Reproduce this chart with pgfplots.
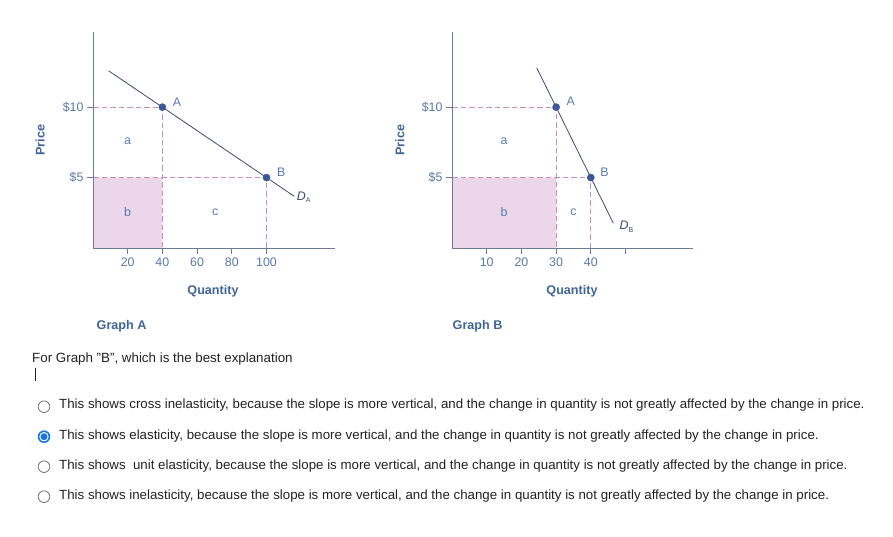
\documentclass[border=0pt]{standalone}
\usepackage{pgfplots}
\pgfplotsset{compat=1.18}
\usepackage{fontspec}
\setmainfont{Liberation Sans}
\definecolor{axiscol}{HTML}{6B7A99}
\definecolor{ticklab}{HTML}{5878A8}
\definecolor{labelcol}{HTML}{3F6598}
\definecolor{demandcol}{HTML}{3C4A6E}
\definecolor{pointcol}{HTML}{3B5998}
\definecolor{dashcol}{HTML}{C98BB5}
\definecolor{shade}{HTML}{EBD6EA}
\definecolor{lettercol}{HTML}{5A7AB0}
\definecolor{txt}{HTML}{222222}
\definecolor{radioblue}{HTML}{1A73E8}
\definecolor{radiogray}{HTML}{767676}
\pgfplotsset{
  econ/.style={
    scale only axis, height=215.5pt, ymin=0, ymax=15.3,
    axis lines=left, axis line style={-, draw=axiscol, line width=0.8pt},
    axis on top,
    ytick={5,10}, yticklabels={\$5,\$10},
    tick align=outside, major tick length=6pt,
    tick style={draw=axiscol, line width=0.8pt},
    /pgf/number format/assume math mode=true,
    ticklabel style={font=\fontsize{12.4}{14}\selectfont, text=ticklab},
    xlabel={Quantity}, ylabel={Price},
    label style={font=\fontsize{12.6}{14}\bfseries, text=labelcol},
    clip=false,
  },
  dl/.style={dashcol, dash pattern=on 5.5pt off 3pt, line width=0.8pt},
}
\begin{document}
\begin{tikzpicture}
\path[use as bounding box] (0pt,0pt) rectangle (893pt,537pt);
% Graph A
\begin{axis}[econ, at={(93pt,289pt)}, anchor=south west, width=242pt,
  xmin=0, xmax=139.5,
  xtick={20,40,60,80,100}, xticklabels={20,40,60,80,100},
  xlabel style={at={(axis description cs:0.496,-0.2)}, anchor=center},
  ylabel style={at={(axis description cs:-0.219,0.5)}, anchor=center},
]
\addplot[fill=shade, draw=none] coordinates {(0,5) (40,5)} \closedcycle;
\addplot[dl] coordinates {(0,10) (40,10) (40,0)};
\addplot[dl] coordinates {(0,5) (100,5) (100,0)};
\addplot[demandcol, line width=0.8pt] coordinates {(9,12.58) (116,3.67)};
\addplot[only marks, mark=*, mark size=3.6pt, pointcol] coordinates {(40,10) (100,5)};
\node[text=lettercol, font=\fontsize{12.4}{14}\selectfont, anchor=west] at (axis cs:40,10) [xshift=7pt, yshift=5pt] {A};
\node[text=lettercol, font=\fontsize{12.4}{14}\selectfont, anchor=west] at (axis cs:100,5) [xshift=7pt, yshift=5pt] {B};
\node[text=lettercol, font=\fontsize{12.4}{14}\selectfont] at (axis cs:20,7.55) {a};
\node[text=lettercol, font=\fontsize{12.4}{14}\selectfont] at (axis cs:20,2.55) {b};
\node[text=lettercol, font=\fontsize{12.4}{14}\selectfont] at (axis cs:70.5,2.55) {c};
\node[text=demandcol, font=\fontsize{12.4}{14}\selectfont] at (axis cs:121.5,3.6) {\textit{D}\raisebox{-0.35ex}{\fontsize{7}{8}\selectfont A}};
\end{axis}
% Graph B
\begin{axis}[econ, at={(452pt,289pt)}, anchor=south west, width=241pt,
  xmin=0, xmax=69.45,
  xtick={10,20,30,40,50}, xticklabels={10,20,30,40,{}},
  xlabel style={at={(axis description cs:0.498,-0.2)}, anchor=center},
  ylabel style={at={(axis description cs:-0.216,0.5)}, anchor=center},
]
\addplot[fill=shade, draw=none] coordinates {(0,5) (30,5)} \closedcycle;
\addplot[dl] coordinates {(0,10) (30,10) (30,0)};
\addplot[dl] coordinates {(0,5) (40,5) (40,0)};
\addplot[demandcol, line width=0.8pt] coordinates {(24.4,12.8) (46.5,1.75)};
\addplot[only marks, mark=*, mark size=3.6pt, pointcol] coordinates {(30,10) (40,5)};
\node[text=lettercol, font=\fontsize{12.4}{14}\selectfont, anchor=west] at (axis cs:30,10) [xshift=7pt, yshift=6pt] {A};
\node[text=lettercol, font=\fontsize{12.4}{14}\selectfont, anchor=west] at (axis cs:40,5) [xshift=6pt, yshift=5pt] {B};
\node[text=lettercol, font=\fontsize{12.4}{14}\selectfont] at (axis cs:15,7.55) {a};
\node[text=lettercol, font=\fontsize{12.4}{14}\selectfont] at (axis cs:15,2.55) {b};
\node[text=lettercol, font=\fontsize{12.4}{14}\selectfont] at (axis cs:35,2.55) {c};
\node[text=demandcol, font=\fontsize{12.4}{14}\selectfont] at (axis cs:50.3,1.5) {\textit{D}\raisebox{-0.35ex}{\fontsize{7}{8}\selectfont B}};
\end{axis}
% graph titles
\node[anchor=west, text=labelcol, font=\fontsize{12.6}{14}\bfseries, inner sep=0pt] at (96.5pt,211pt) {Graph A};
\node[anchor=west, text=labelcol, font=\fontsize{12.6}{14}\bfseries, inner sep=0pt] at (452.5pt,211pt) {Graph B};
% question
\node[anchor=base west, inner sep=0pt, text=txt, font=\fontsize{13.35}{15}\selectfont] at (32pt,174.5pt) {For Graph "B", which is the best explanation};
\draw[txt, line width=0.9pt] (35.3pt,169pt) -- (35.3pt,155.5pt);
% options
\foreach \yb/\t in {
  128.5/{This shows cross inelasticity, because the slope is more vertical, and the change in quantity is not greatly affected by the change in price.},
  97.5/{This shows elasticity, because the slope is more vertical, and the change in quantity is not greatly affected by the change in price.},
  67.5/{This shows\ \ unit elasticity, because the slope is more vertical, and the change in quantity is not greatly affected by the change in price.},
  37.5/{This shows inelasticity, because the slope is more vertical, and the change in quantity is not greatly affected by the change in price.}}
{
  \node[anchor=base west, inner sep=0pt, text=txt, font=\fontsize{13.3}{15}\selectfont] at (59pt,\yb pt) {\t};
}
\draw[radiogray, line width=0.8pt, fill=white] (44pt,130.3pt) circle (5.8pt);
\fill[radioblue] (44pt,100.3pt) circle (6.3pt);
\fill[white] (44pt,100.3pt) circle (4.7pt);
\fill[radioblue] (44pt,100.3pt) circle (3.5pt);
\draw[radiogray, line width=0.8pt, fill=white] (44pt,70.3pt) circle (5.8pt);
\draw[radiogray, line width=0.8pt, fill=white] (44pt,40.3pt) circle (5.8pt);
\end{tikzpicture}
\end{document}
